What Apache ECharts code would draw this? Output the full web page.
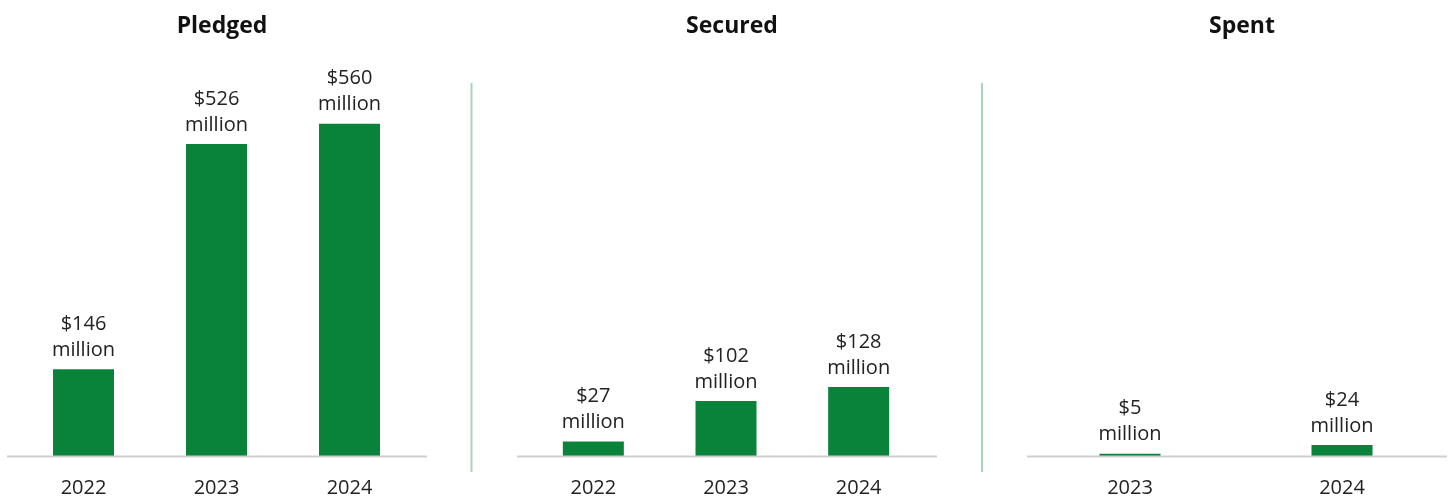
<!DOCTYPE html>
<html>
<head>
<meta charset="utf-8">
<script src="https://cdn.jsdelivr.net/npm/echarts@6/dist/echarts.min.js"></script>
<style>
  html, body { margin: 0; padding: 0; background: #fff; }
  #main { width: 1453px; height: 498px; }
</style>
</head>
<body>
<div id="main"></div>
<script>
// data (US$ million)
const panelTitles = ['Pledged', 'Secured', 'Spent'];
const pledgedYears = ['2022', '2023', '2024'];
const pledgedValues = [146, 526, 560];
const securedYears = ['2022', '2023', '2024'];
const securedValues = [27, 102, 128];
const spentYears = ['2023', '2024'];
const spentValues = [5, 24];

const GREEN = '#0a833a';
const FONT = '"Open Sans", "Noto Sans", sans-serif';

// per-panel layout: grid spans + y max
const panels = [
  { years: pledgedYears, values: pledgedValues, left: 17, width: 399, max: 600, axis: [7, 427] },
  { years: securedYears, values: securedValues, left: 527, width: 398, max: 660, axis: [517, 937] },
  { years: spentYears, values: spentValues, left: 1024, width: 424, max: 770, axis: [1027, 1447] },
];

const chart = echarts.init(document.getElementById('main'), null, { renderer: 'canvas' });

const grids = panels.map(p => ({ left: p.left, width: p.width, top: 100, bottom: 42 }));

const xAxes = panels.map((p, i) => ({
  type: 'category',
  gridIndex: i,
  data: p.years,
  axisLine: { show: false },
  axisTick: { show: false },
  axisLabel: { color: '#222', fontFamily: FONT, fontSize: 20, margin: 22 },
}));

const yAxes = panels.map((p, i) => ({
  type: 'value',
  gridIndex: i,
  min: 0,
  max: p.max,
  show: false,
  splitLine: { show: false },
}));

const series = panels.map((p, i) => ({
  type: 'bar',
  xAxisIndex: i,
  yAxisIndex: i,
  data: p.values,
  barWidth: 61,
  itemStyle: { color: GREEN },
  label: {
    show: true,
    position: 'top',
    distance: 6,
    color: '#222',
    fontFamily: FONT,
    fontSize: 20,
    lineHeight: 26,
    formatter: d => '$' + d.value + '\nmillion',
  },
  silent: true,
}));

const titles = panels.map((p, i) => ({
  text: panelTitles[i],
  left: (p.axis[0] + p.axis[1]) / 2,
  top: 10,
  textAlign: 'center',
  textStyle: { fontFamily: FONT, fontSize: 23, fontWeight: 'bold', color: '#111' },
}));

// baselines and separators
const graphics = panels.map(p => ({
  type: 'line',
  shape: { x1: p.axis[0], y1: 456.5, x2: p.axis[1], y2: 456.5 },
  style: { stroke: '#d0d0d0', lineWidth: 2 },
  z: 10,
}));
[471.5, 982].forEach(x => {
  graphics.push({
    type: 'line',
    shape: { x1: x, y1: 83, x2: x, y2: 472 },
    style: { stroke: '#a6d5bb', lineWidth: 2 },
  });
});

chart.setOption({
  animation: false,
  backgroundColor: '#fff',
  title: titles,
  grid: grids,
  xAxis: xAxes,
  yAxis: yAxes,
  series: series,
  graphic: graphics,
});
</script>
</body>
</html>
